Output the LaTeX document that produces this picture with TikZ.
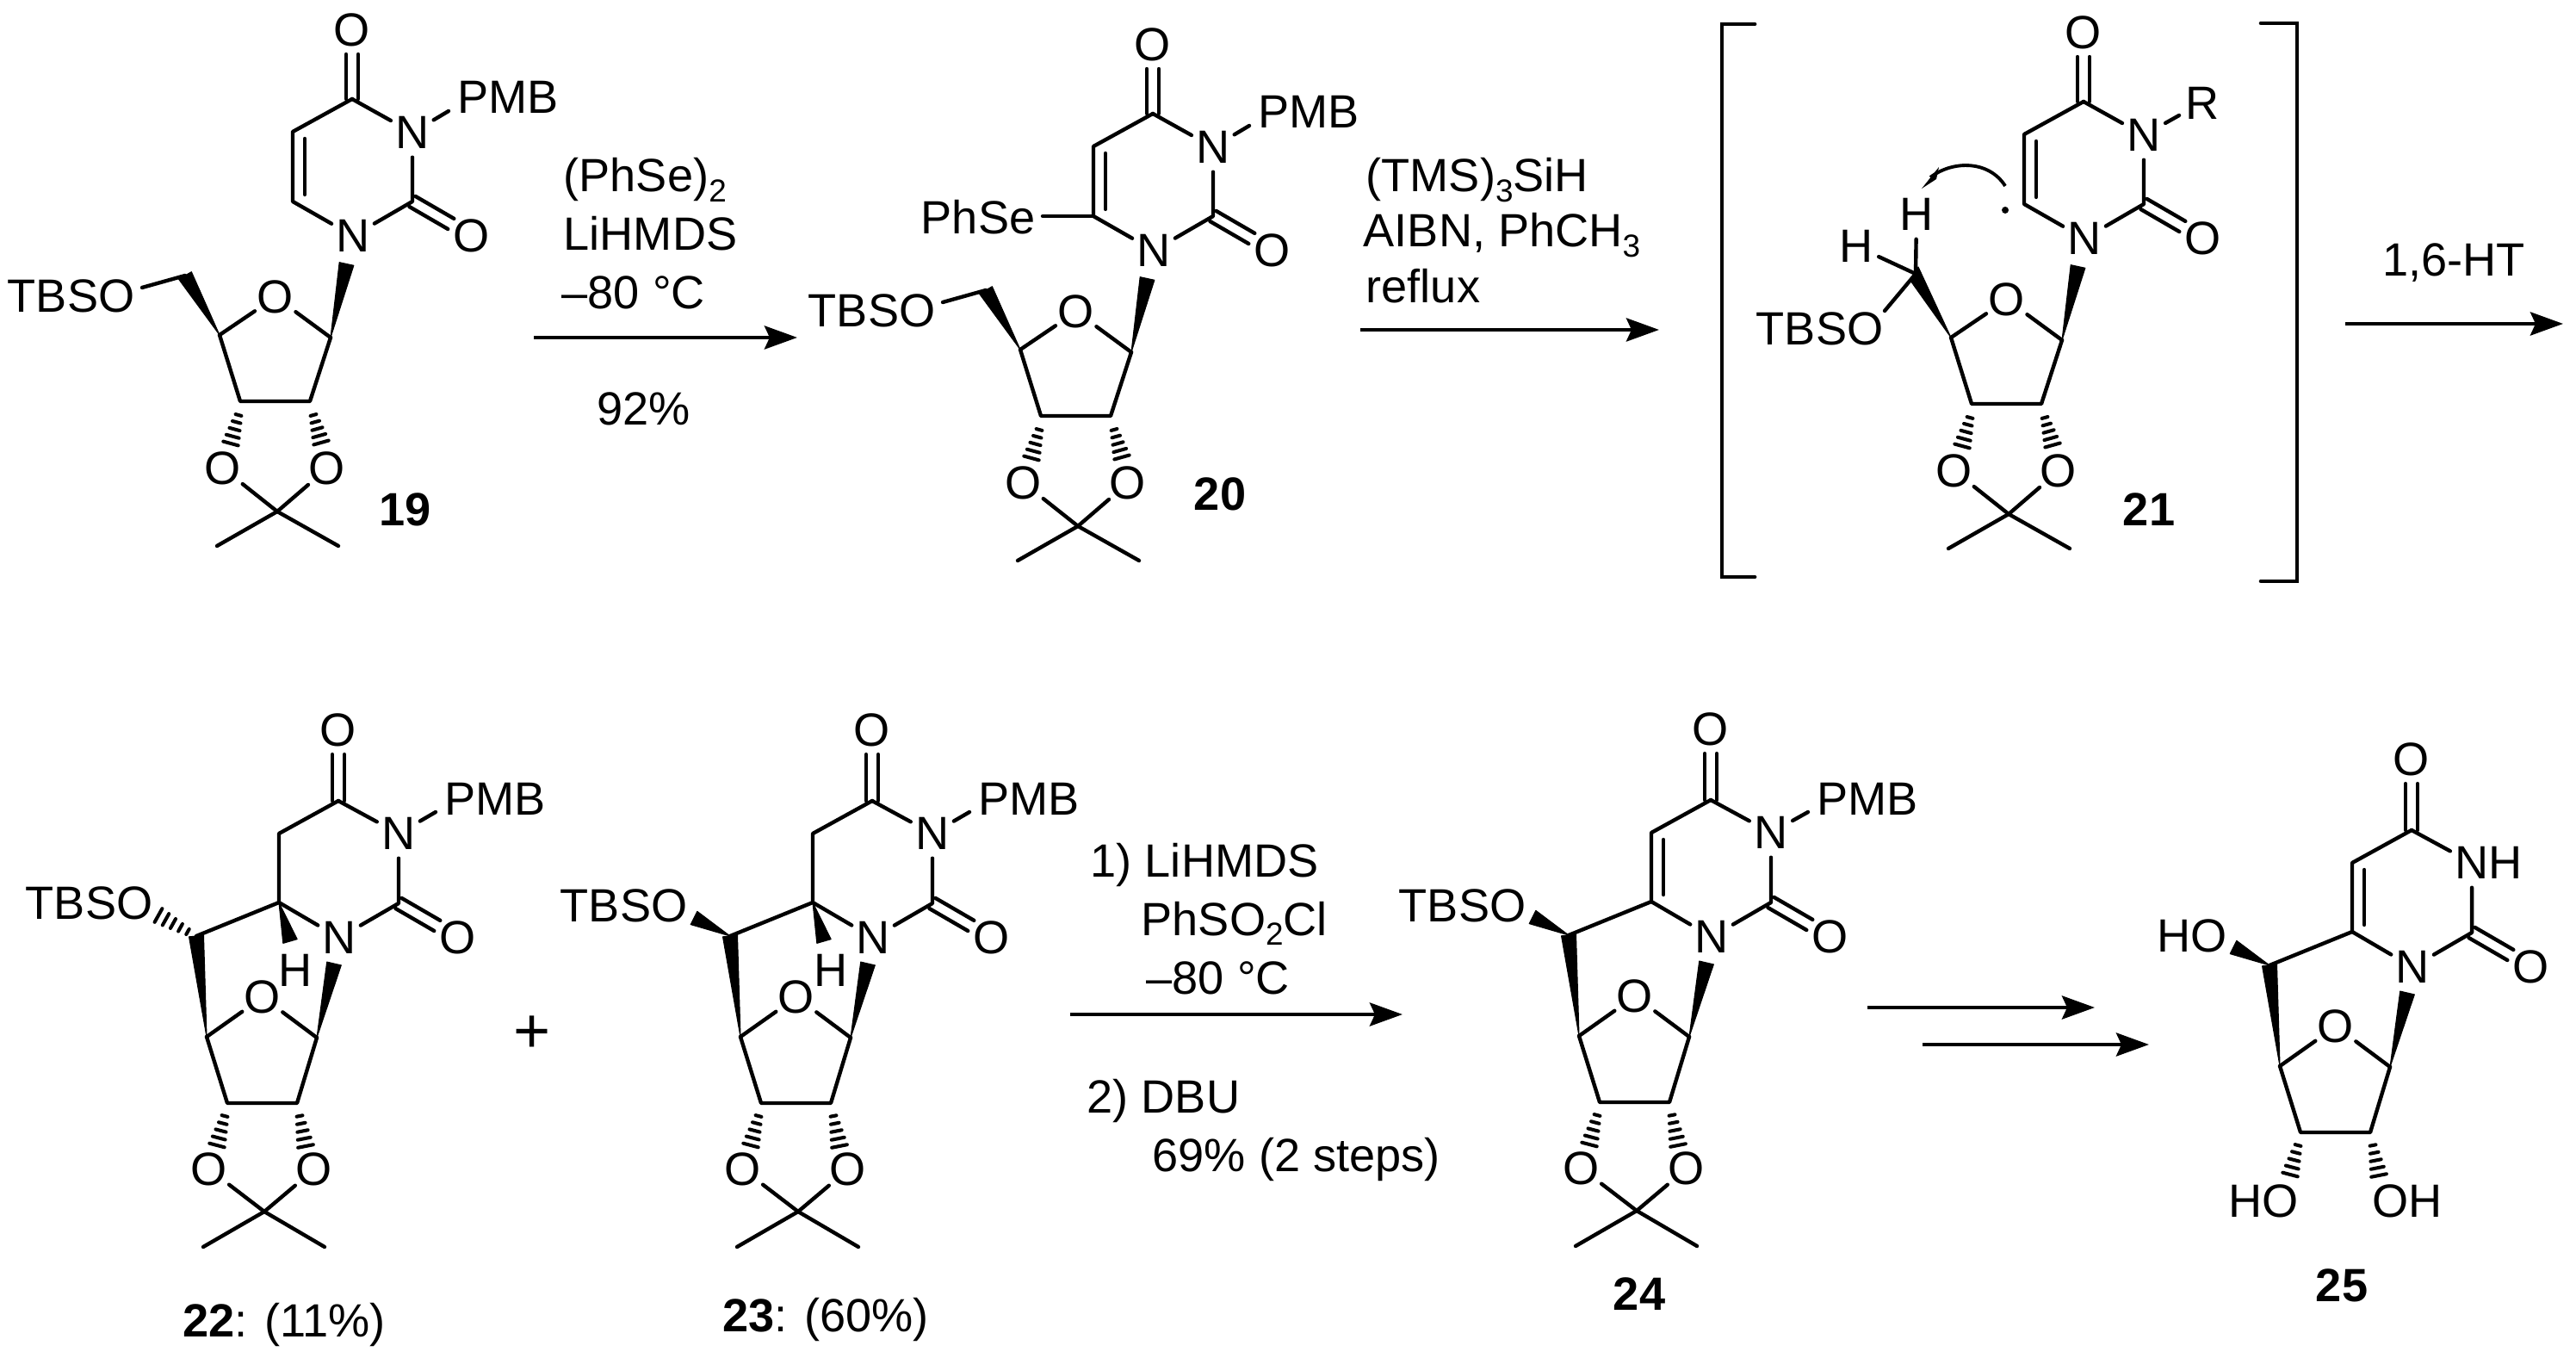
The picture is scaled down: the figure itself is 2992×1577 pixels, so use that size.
\documentclass[tikz,border=0pt]{standalone}
\usepackage{fontspec}
\setmainfont{Liberation Sans}
\usetikzlibrary{calc,arrows.meta}
\newcommand\chemfont{\fontsize{15.4}{18}\selectfont}
\newcommand\sbs[1]{\raisebox{-0.22em}{\fontsize{10.5}{10.5}\selectfont #1}}
\tikzset{
  bond/.style={line width=1.25pt,line cap=round,line join=round,black},
  hashline/.style={line width=1.15pt,line cap=round,black},
  wedgefill/.style={fill=black,draw=black,line width=0.3pt,line join=round},
  atom/.style={circle,inner sep=0pt,minimum size=0.56cm,font=\chemfont,text=black},
  txt/.style={inner sep=0pt,font=\chemfont,text=black,anchor=base west},
  lab/.style={inner sep=0pt,font=\chemfont\bfseries,text=black,anchor=base},
  rxn/.style={line width=1.35pt,black,-{Stealth[length=0.38cm,width=0.27cm,inset=0.06cm]}},
  brk/.style={line width=1.35pt,black,line cap=round,line join=miter},
}
% wedge: narrow at #1, wide end at #2
\newcommand\wedgeb[2]{\fill[wedgefill] (#1) -- ($(#2)!0.085cm!90:(#1)$) -- ($(#2)!0.085cm!-90:(#1)$) -- cycle;}
% hashed wedge: narrow end #1, wide end #2
\newcommand\hashb[2]{%
  \coordinate (hnL) at ($(#1)!0.035cm!90:(#2)$);
  \coordinate (hnR) at ($(#1)!0.035cm!-90:(#2)$);
  \coordinate (hwL) at ($(#2)!0.09cm!-90:(#1)$);
  \coordinate (hwR) at ($(#2)!0.09cm!90:(#1)$);
  \foreach \t in {0,0.25,0.5,0.75,1}{\draw[hashline] ($(hnL)!\t!(hwL)$) -- ($(hnR)!\t!(hwR)$);}%
}
% C=O double bond
\newcommand\dblO[2]{%
  \draw[bond,shorten >=0.28cm] ($(#1)!0.07cm!90:(#2)$) -- ($(#2)!0.07cm!-90:(#1)$);
  \draw[bond,shorten >=0.28cm] ($(#1)!0.07cm!-90:(#2)$) -- ($(#2)!0.07cm!90:(#1)$);
}
% inner line of a ring double bond
\newcommand\innerdbl[2]{\draw[bond,shorten >=0.08cm,shorten <=0.08cm] ($(#1)!0.14cm!90:(#2)$) -- ($(#2)!0.14cm!-90:(#1)$);}
% molecule type A (compounds 19, 20, 21): base at coordinates of 19
\newcommand\molA[3]{%
\begin{scope}[shift={(#2,#3)}]
  \node[atom] (#1O4) at (409,35) {O};
  \coordinate (#1C4) at (409,115);
  \node[atom] (#1N3) at (479,154) {N};
  \coordinate (#1C5) at (340,153);
  \coordinate (#1C6) at (340,234);
  \node[atom] (#1N1) at (410,274) {N};
  \coordinate (#1C2) at (479,234);
  \node[atom] (#1O2) at (548,274) {O};
  \coordinate (#1C1p) at (384,392);
  \coordinate (#1Nw) at (402.5,306.5);
  \node[atom] (#1Or) at (320,345) {O};
  \coordinate (#1C4p) at (255,389);
  \coordinate (#1C3p) at (279,466);
  \coordinate (#1C2p) at (360,466);
  \node[atom] (#1Oa) at (259,544) {O};
  \node[atom] (#1Ob) at (380,544) {O};
  \coordinate (#1Ha) at (277,482);
  \coordinate (#1Hb) at (268,515);
  \coordinate (#1Hc) at (364,482);
  \coordinate (#1Hd) at (373,514);
  \coordinate (#1Cm) at (322,594);
  \coordinate (#1Me1) at (252,634);
  \coordinate (#1Me2) at (393,634);
\end{scope}
\draw[bond] (#1C4) -- (#1N3);
\draw[bond] (#1C4) -- (#1C5) -- (#1C6) -- (#1N1);
\draw[bond] (#1N1) -- (#1C2) -- (#1N3);
\innerdbl{#1C5}{#1C6}
\dblO{#1C4}{#1O4}
\dblO{#1C2}{#1O2}
\wedgeb{#1C1p}{#1Nw}
\draw[bond] (#1C1p) -- (#1Or) -- (#1C4p);
\draw[bond] (#1C4p) -- (#1C3p) -- (#1C2p) -- (#1C1p);
\hashb{#1Ha}{#1Hb}
\hashb{#1Hc}{#1Hd}
\draw[bond] (#1Cm) -- (#1Oa);
\draw[bond] (#1Cm) -- (#1Ob);
\draw[bond] (#1Me1) -- (#1Cm) -- (#1Me2);
}
% molecule type B (compounds 22-25): base at coordinates of 22; #4 = text of N3
\newcommand\molB[4]{%
\begin{scope}[shift={(#2,#3)}]
  \node[atom] (#1O4) at (393,848) {O};
  \coordinate (#1C4) at (393,930);
  \node[atom] (#1N3) at (463,968) {#4};
  \coordinate (#1C5) at (324,968);
  \coordinate (#1C6) at (324,1048);
  \node[atom] (#1N1) at (394,1089) {N};
  \coordinate (#1C2) at (463,1049);
  \node[atom] (#1O2) at (532,1089) {O};
  \coordinate (#1C5p) at (228,1087);
  \coordinate (#1C4p) at (240,1204);
  \node[atom] (#1Or) at (305,1158) {O};
  \coordinate (#1C1p) at (368,1205);
  \coordinate (#1Nw) at (388,1119);
  \coordinate (#1C3p) at (264,1281);
  \coordinate (#1C2p) at (345,1281);
  \coordinate (#1Ha) at (261,1296);
  \coordinate (#1Hb) at (252,1330);
  \coordinate (#1Hc) at (348,1296);
  \coordinate (#1Hd) at (355,1331);
  \coordinate (#1Xw) at (186,1066);
\end{scope}
\draw[bond] (#1C4) -- (#1N3);
\draw[bond] (#1C4) -- (#1C5) -- (#1C6) -- (#1N1);
\draw[bond] (#1N1) -- (#1C2) -- (#1N3);
\dblO{#1C4}{#1O4}
\dblO{#1C2}{#1O2}
\wedgeb{#1C1p}{#1Nw}
\wedgeb{#1C4p}{#1C5p}
\draw[bond] (#1C6) -- (#1C5p);
\draw[bond] (#1C1p) -- (#1Or) -- (#1C4p);
\draw[bond] (#1C4p) -- (#1C3p) -- (#1C2p) -- (#1C1p);
\hashb{#1Ha}{#1Hb}
\hashb{#1Hc}{#1Hd}
}
\newcommand\ketalB[3]{%
\begin{scope}[shift={(#2,#3)}]
  \node[atom] (#1Oa) at (243,1358) {O};
  \node[atom] (#1Ob) at (365,1358) {O};
  \coordinate (#1Cm) at (307,1407);
  \coordinate (#1Me1) at (236,1448);
  \coordinate (#1Me2) at (377,1448);
\end{scope}
\draw[bond] (#1Cm) -- (#1Oa);
\draw[bond] (#1Cm) -- (#1Ob);
\draw[bond] (#1Me1) -- (#1Cm) -- (#1Me2);
}
\begin{document}
\begin{tikzpicture}[x=0.01cm,y=-0.01cm]
\useasboundingbox (0,0) rectangle (2992,1577);

% ---------- 19
\molA{a}{0}{0}
\node[txt] (aPMB) at (531,132) {PMB};
\coordinate (aPb) at (521,129);
\draw[bond] (aN3) -- (aPb);
\coordinate (aC5p) at (215,320);
\node[txt,anchor=base east] (aTBSO) at (157,363) {TBSO};
\coordinate (aTb) at (165,334);
\wedgeb{aC4p}{aC5p}
\draw[bond] (aTb) -- (aC5p);
\node[lab] (l19) at (471,611) {19};

% ---------- 20
\molA{b}{930}{17}
\node[txt] (bPMB) at (1461,149) {PMB};
\coordinate (bPb) at (1451,146);
\draw[bond] (bN3) -- (bPb);
\coordinate (bC5p) at (1145,337);
\node[txt,anchor=base east] (bTBSO) at (1087,380) {TBSO};
\coordinate (bTb) at (1095,351);
\wedgeb{bC4p}{bC5p}
\draw[bond] (bTb) -- (bC5p);
\node[txt,anchor=base east] (bSe) at (1203,272) {PhSe};
\coordinate (bSb) at (1211,251);
\draw[bond] (bSb) -- (bC6);
\node[lab] (l20) at (1417,593) {20};

% ---------- 21
\molA{c}{2011}{3}
\node[txt,anchor=base] (cR) at (2558,139) {R};
\coordinate (cRb) at (2531,134);
\draw[bond] (cN3) -- (cRb);
\coordinate (cC5p) at (2225,318);
\node[atom] (cH1) at (2226,249) {H};
\node[atom] (cH2) at (2156,286) {H};
\node[txt,anchor=base east] (cTBSO) at (2188,401) {TBSO};
\coordinate (cTb) at (2189,361);
\fill[wedgefill] (cC4p) -- (2219,326) -- (2228,310) -- cycle;
\draw[bond] (cTb) -- (cC5p);
\draw[bond] (cH1) -- (cC5p);
\draw[bond] (cH2) -- (cC5p);
\node[circle,fill=black,inner sep=0pt,minimum size=0.08cm] (crad) at (2329,244) {};
\coordinate (cA1) at (2329,216);
\coordinate (cA2) at (2242,206);
\draw[line width=1.1pt,black] (cA1) .. controls (2310,186) and (2268,186) .. (cA2);
\fill[black] (2232,219) -- (2252,194) -- (2249,208) -- cycle;
\node[lab] (l21) at (2496,611) {21};
\draw[brk] (2038,28) -- (2000,28) -- (2000,670) -- (2038,670);
\draw[brk] (2626,27) -- (2668,27) -- (2668,675) -- (2626,675);

% ---------- 22
\molB{d}{0}{0}{N}
\ketalB{d}{0}{0}
\node[txt] (dPMB) at (516,946) {PMB};
\coordinate (dPb) at (506,943);
\draw[bond] (dN3) -- (dPb);
\coordinate (dHw) at (337,1093);
\wedgeb{dC6}{dHw}
\node[atom] (dH) at (343,1127) {H};
\node[txt,anchor=base east] (dTBSO) at (178,1067) {TBSO};
\coordinate (dHh) at (218,1082);
\coordinate (dHi) at (184,1063);
\hashb{dHh}{dHi}
\node[lab,anchor=base] (l22) at (330,1552) {22\textmd{: (11\%)}};

\node[inner sep=0pt,font=\fontsize{21}{24}\selectfont] (plus) at (618,1201) {+};

% ---------- 23
\molB{e}{620}{0}{N}
\ketalB{e}{620}{0}
\node[txt] (ePMB) at (1136,946) {PMB};
\coordinate (ePb) at (1126,943);
\draw[bond] (eN3) -- (ePb);
\coordinate (eHw) at (957,1093);
\wedgeb{eC6}{eHw}
\node[atom] (eH) at (965,1127) {H};
\node[txt,anchor=base east] (eTBSO) at (799,1070) {TBSO};
\wedgeb{eC5p}{eXw}
\node[lab] (l23) at (959,1546) {23\textmd{: (60\%)}};

% ---------- 24
\molB{f}{1594}{-1}{N}
\ketalB{f}{1594}{-1}
\innerdbl{fC5}{fC6}
\node[txt] (fPMB) at (2110,946) {PMB};
\coordinate (fPb) at (2100,943);
\draw[bond] (fN3) -- (fPb);
\node[txt,anchor=base east] (fTBSO) at (1773,1070) {TBSO};
\wedgeb{fC5p}{fXw}
\node[lab] (l24) at (1904,1521) {24};

% ---------- 25
\molB{g}{2408}{34}{N\rlap{H}}
\innerdbl{gC5}{gC6}
\node[txt,anchor=base east] (gHOa) at (2587,1105) {HO};
\wedgeb{gC5p}{gXw}
\node[txt,anchor=base east] (gHOb) at (2670,1413) {HO};
\node[txt] (gOHc) at (2755,1413) {OH};
\node[lab] (l25) at (2720,1511) {25};

% ---------- reaction arrows
\coordinate (r1a) at (620,392); \coordinate (r1b) at (926,392);
\draw[rxn] (r1a) -- (r1b);
\node[txt] (t1a) at (654,223) {(PhSe)\sbs{2}};
\node[txt] (t1b) at (654,291) {LiHMDS};
\node[txt] (t1c) at (652,359) {–80 °C};
\node[txt] (t1d) at (693,494) {92\%};

\coordinate (r2a) at (1580,383); \coordinate (r2b) at (1927,383);
\draw[rxn] (r2a) -- (r2b);
\node[txt] (t2a) at (1586,223) {(TMS)\sbs{3}SiH};
\node[txt] (t2b) at (1583,287) {AIBN, PhCH\sbs{3}};
\node[txt] (t2c) at (1586,352) {reflux};

\coordinate (r3a) at (2724,376); \coordinate (r3b) at (2977,376);
\draw[rxn] (r3a) -- (r3b);
\node[txt,anchor=base] (t3a) at (2850,321) {1,6-HT};

\coordinate (r4a) at (1243,1178); \coordinate (r4b) at (1629,1178);
\draw[rxn] (r4a) -- (r4b);
\node[txt] (t4a) at (1266,1018) {1) LiHMDS};
\node[txt] (t4b) at (1325,1086) {PhSO\sbs{2}Cl};
\node[txt] (t4c) at (1331,1154) {–80 °C};
\node[txt] (t4d) at (1262,1292) {2) DBU};
\node[txt] (t4e) at (1338,1360) {69\% (2 steps)};

\coordinate (r5a) at (2169,1170); \coordinate (r5b) at (2433,1170);
\draw[rxn] (r5a) -- (r5b);
\coordinate (r6a) at (2233,1213); \coordinate (r6b) at (2496,1213);
\draw[rxn] (r6a) -- (r6b);
\end{tikzpicture}
\end{document}
